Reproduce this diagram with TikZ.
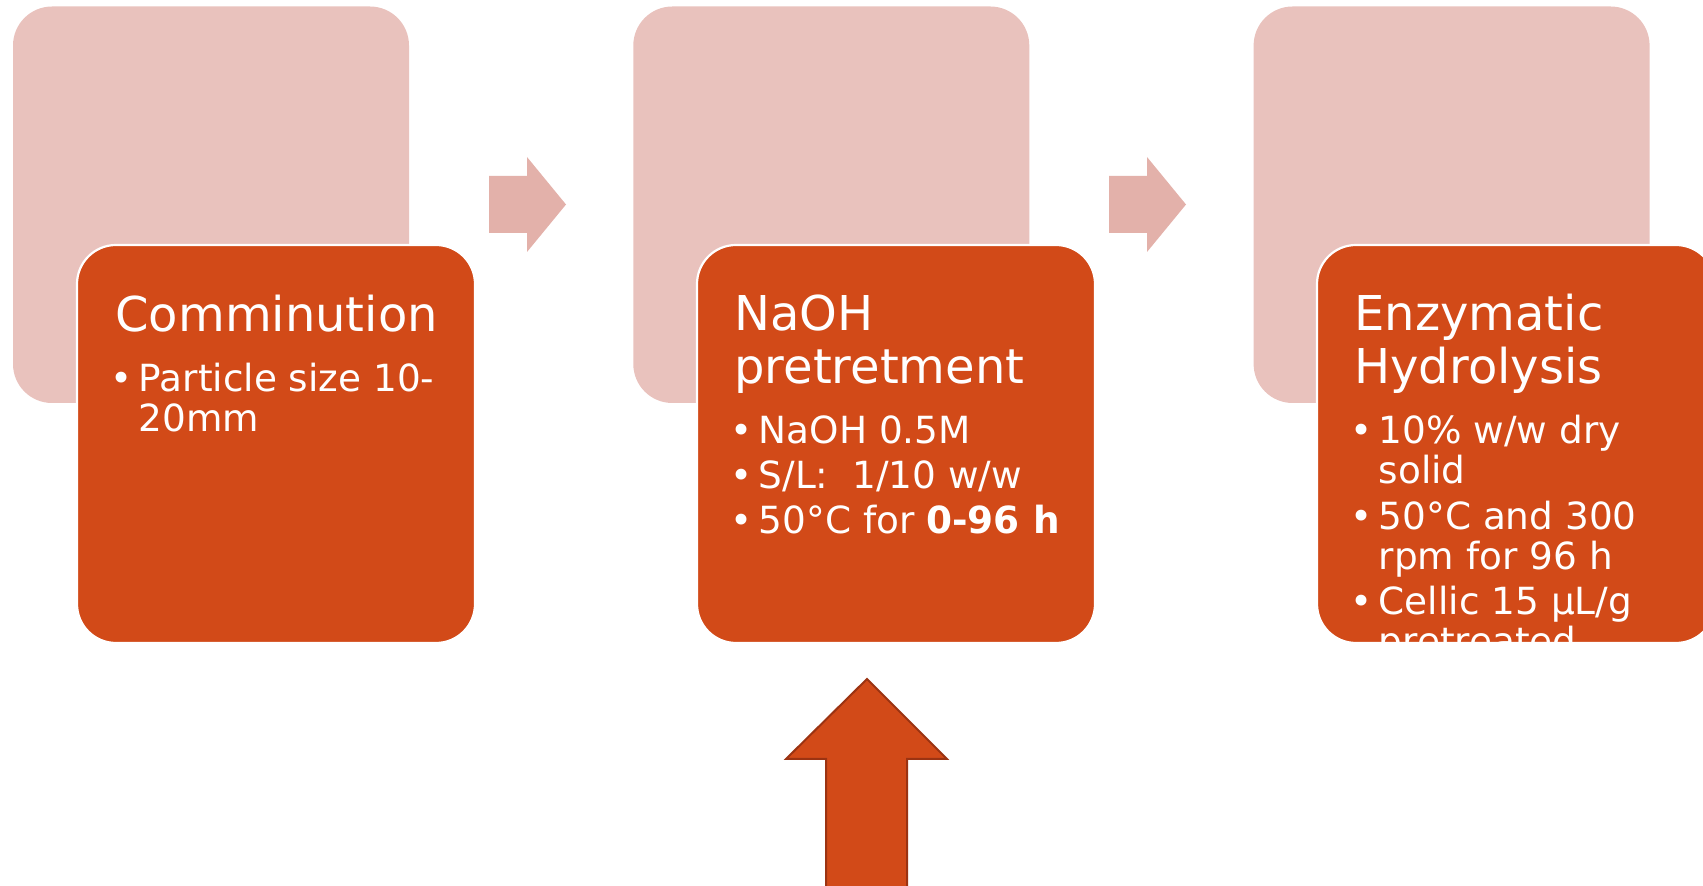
\documentclass[tikz,border=0pt]{standalone}
\usepackage{fontspec}
\setmainfont{DejaVu Sans}
\definecolor{boxfill}{HTML}{D24A18}
\definecolor{backfill}{HTML}{E9C2BD}
\definecolor{stepfill}{HTML}{E3B1AA}
\definecolor{arrowline}{HTML}{9B3312}
\begin{document}
\begin{tikzpicture}[x=0.5pt,y=-0.5pt,
  backcard/.style={fill=backfill, draw=none, rounded corners=19.5pt,
    minimum width=198pt, minimum height=198.25pt, inner sep=0pt, outer sep=0pt},
  card/.style={fill=boxfill, draw=white, line width=1.1pt, rounded corners=19.5pt,
    minimum width=199pt, minimum height=199pt, inner sep=0pt, outer sep=0pt},
  titletext/.style={anchor=base west, inner sep=0pt, text=white,
    font=\fontsize{24pt}{29pt}\selectfont},
  itemtext/.style={anchor=base west, inner sep=0pt, text=white,
    font=\fontsize{18.7pt}{22pt}\selectfont},
  bulletmark/.style={itemtext},
  stepshape/.style={fill=stepfill, draw=none},
  uparrow/.style={fill=boxfill, draw=arrowline, line width=1pt, line join=miter}]

\useasboundingbox (0,0) rectangle (1703,886);
\clip (0,0) rectangle (1703,886);

% back cards
\node[backcard] (back1) at (211,204.75) {};
\node[backcard] (back2) at (831.3,204.75) {};
\node[backcard] (back3) at (1451.6,204.75) {};

% step arrows between the back cards
\fill[stepshape] (489,176) -- (527,176) -- (527,157) -- (566,204.5)
  -- (527,252) -- (527,233) -- (489,233) -- cycle;
\fill[stepshape] (1109,176) -- (1147,176) -- (1147,157) -- (1186,204.5)
  -- (1147,252) -- (1147,233) -- (1109,233) -- cycle;

% front cards
\node[card] (card1) at (276,444) {};
\node[card] (card2) at (896,444) {};
\node[card] (card3) at (1516,444) {};

% card 1: comminution
\node[titletext] (t1) at (115,332) {Comminution};
\node[bulletmark] (d1a) at (110,391.5) {•};
\node[itemtext] (i1a) at (138.4,391.5) {Particle size 10-};
\node[itemtext] (i1b) at (138.4,431.5) {20mm};

% card 2: NaOH pretreatment
\node[titletext] (t2a) at (734,331) {NaOH};
\node[titletext] (t2b) at (734,383.5) {pretretment};
\node[bulletmark] (d2a) at (730,444) {•};
\node[itemtext] (i2a) at (758.4,444) {NaOH 0.5M};
\node[bulletmark] (d2b) at (730,489) {•};
\node[itemtext] (i2b) at (758.4,489) {S/L:\ \ 1/10 w/w};
\node[bulletmark] (d2c) at (730,534) {•};
\node[itemtext] (i2c) at (758.4,534) {50°C for \textbf{0-96 h}};

% card 3: enzymatic hydrolysis, text cut off by the card edge
\begin{scope}
  \clip[rounded corners=19.5pt] (1317,245) rectangle (1715,643);
  \node[titletext] (t3a) at (1354,331) {Enzymatic};
  \node[titletext] (t3b) at (1354,383.5) {Hydrolysis};
  \node[bulletmark] (d3a) at (1350,444) {•};
  \node[itemtext] (i3a) at (1378.4,444) {10\% w/w dry};
  \node[itemtext] (i3b) at (1378.4,483.5) {solid};
  \node[bulletmark] (d3b) at (1350,529.5) {•};
  \node[itemtext] (i3c) at (1378.4,529.5) {50°C and 300};
  \node[itemtext] (i3d) at (1378.4,569.5) {rpm for 96 h};
  \node[bulletmark] (d3c) at (1350,615) {•};
  \node[itemtext] (i3e) at (1378.4,615) {Cellic 15 µL/g};
  \node[itemtext] (i3f) at (1378.4,655) {pretreated};
\end{scope}

% input arrow below the pretreatment card
\filldraw[uparrow] (867,679) -- (947,759) -- (907,759) -- (907,900)
  -- (826,900) -- (826,759) -- (786,759) -- cycle;
\end{tikzpicture}
\end{document}
